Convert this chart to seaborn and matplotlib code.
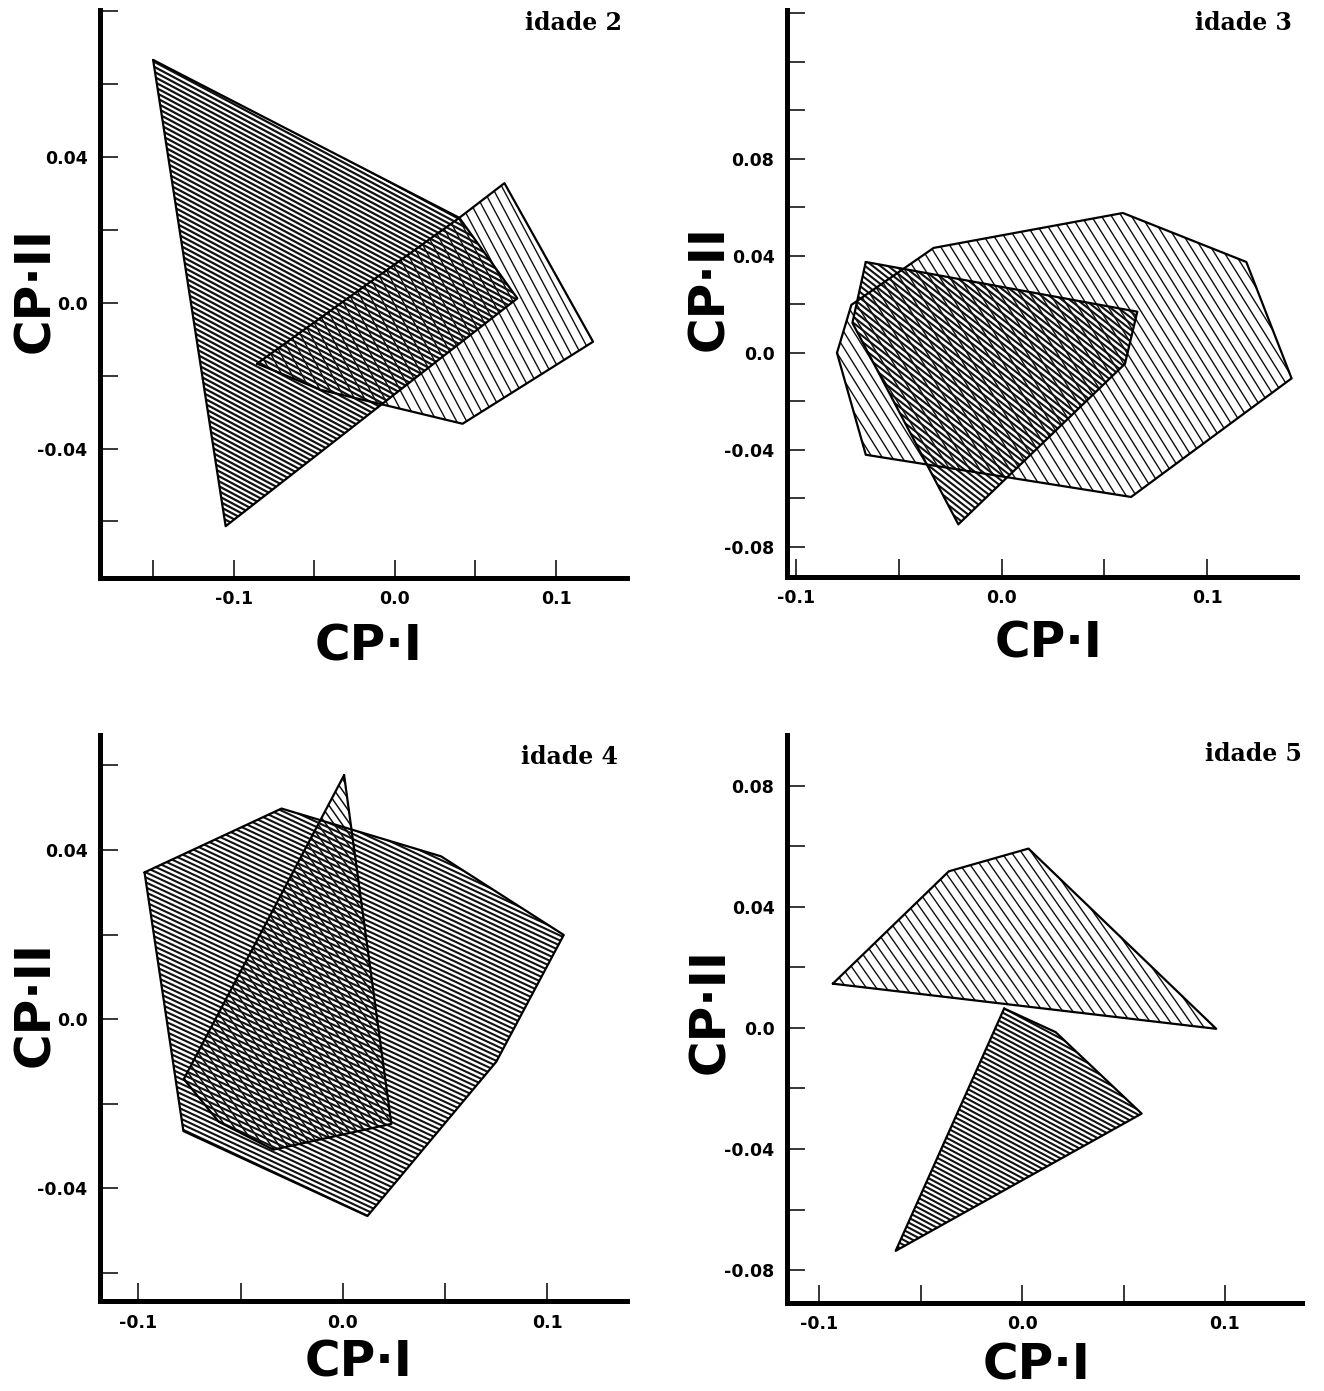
import numpy as np
import matplotlib
matplotlib.use('Agg')
import matplotlib.pyplot as plt
import seaborn as sns
from matplotlib.patches import Polygon
from matplotlib.collections import LineCollection

# ---- data: convex hulls on CP-I / CP-II, one figure per age (idade) ----
# idade 2
i2_dense_x = [-0.150, 0.040, 0.076, -0.105]
i2_dense_y = [0.0666, 0.0233, 0.0012, -0.0613]
i2_sparse_x = [-0.0855, 0.040, 0.068, 0.123, 0.042, -0.005, -0.046]
i2_sparse_y = [-0.0167, 0.0233, 0.0328, -0.0107, -0.0332, -0.0282, -0.0239]

# idade 3
i3_dense_x = [-0.066, 0.066, 0.060, -0.021, -0.0725]
i3_dense_y = [0.0375, 0.017, -0.0045, -0.0707, 0.0124]
i3_sparse_x = [-0.080, -0.073, -0.033, 0.059, 0.119, 0.141, 0.063, -0.066]
i3_sparse_y = [0.0, 0.0198, 0.0433, 0.0577, 0.0375, -0.0105, -0.0594, -0.042]

# idade 4
i4_dense_x = [-0.097, -0.030, 0.048, 0.108, 0.075, 0.012, -0.078]
i4_dense_y = [0.0347, 0.0498, 0.0385, 0.0199, -0.0101, -0.0466, -0.0265]
i4_sparse_x = [0.0006, 0.0237, -0.034, -0.0607, -0.0778]
i4_sparse_y = [0.0577, -0.0248, -0.0309, -0.0243, -0.0142]

# idade 5
i5_dense_x = [-0.0089, 0.0165, 0.0589, -0.0624]
i5_dense_y = [0.0064, -0.0014, -0.0283, -0.0736]
i5_sparse_x = [-0.0934, -0.0362, 0.0031, 0.0957]
i5_sparse_y = [0.0146, 0.0517, 0.0592, -0.0003]

panel_titles = ['idade 2', 'idade 3', 'idade 4', 'idade 5']
x_labels = ['-0.1', '0.0', '0.1']
y_labels_small = ['-0.04', '0.0', '0.04']
y_labels_big = ['-0.08', '-0.04', '0.0', '0.04', '0.08']

sns.set_theme(style='white')
plt.rcParams['font.family'] = ['DejaVu Sans']
plt.rcParams['text.color'] = 'black'
plt.rcParams['axes.labelcolor'] = 'black'
plt.rcParams['xtick.color'] = 'black'
plt.rcParams['ytick.color'] = 'black'
plt.rcParams['axes.linewidth'] = 3.6

fig = plt.figure(figsize=(13.24, 13.91), dpi=100)


def hatch(ax, xs, ys, angle, gap, lw):
    # straight hatch lines clipped to the polygon; angle in screen degrees,
    # gap = vertical px between lines for shallow angles, horizontal px for steep ones
    poly = Polygon(np.column_stack([xs, ys]), closed=True, fill=False,
                   edgecolor='none', transform=ax.transData)
    ax.add_patch(poly)
    bb = ax.get_window_extent()
    W, H = bb.width, bb.height
    a = np.deg2rad(angle)
    d = np.array([np.cos(a), np.sin(a)])
    n = np.array([-np.sin(a), np.cos(a)])
    step = gap * abs(np.cos(a)) if abs(angle) < 45 else gap * abs(np.sin(a))
    corners = np.array([[0, 0], [W, 0], [0, H], [W, H]])
    proj = corners @ n
    L = np.hypot(W, H)
    segs = []
    for t in np.arange(proj.min(), proj.max(), step):
        p0 = t * n - L * d
        p1 = t * n + L * d
        segs.append([(p0[0] / W, p0[1] / H), (p1[0] / W, p1[1] / H)])
    lc = LineCollection(segs, colors='#111111', linewidths=lw, transform=ax.transAxes)
    ax.add_collection(lc)
    lc.set_clip_path(poly)


def outline(ax, xs, ys):
    sns.lineplot(x=list(xs) + [xs[0]], y=list(ys) + [ys[0]], sort=False, estimator=None,
                 color='black', linewidth=1.6, ax=ax)


def style(ax, xlim, ylim, yticks, ylabs, title, title_xy, xl_xy, yl_xy):
    ax.set_xlim(*xlim)
    ax.set_ylim(*ylim)
    xt = np.round(np.arange(-0.15, 0.1001, 0.05), 3)
    xt = xt[xt >= xlim[0]]
    ax.set_xticks(xt)
    ax.set_xticklabels([{-0.1: x_labels[0], 0.0: x_labels[1], 0.1: x_labels[2]}.get(round(v, 2), '')
                        for v in xt])
    ax.set_yticks(yticks)
    lab_map = {round(float(l), 2): l for l in ylabs}
    ax.set_yticklabels([lab_map.get(round(v, 2), '') for v in yticks])
    ax.spines[['top', 'right']].set_visible(False)
    for s in ['left', 'bottom']:
        ax.spines[s].set_color('black')
        ax.spines[s].set_linewidth(3.6)
    ax.tick_params(direction='in', length=13, width=1.1, color='black', pad=9,
                   labelsize=12.5, labelcolor='black', left=True, bottom=True)
    for t in ax.get_xticklabels() + ax.get_yticklabels():
        t.set_fontweight('bold')
    ax.set_xlabel('CP·I', fontsize=35, fontweight='bold', color='black')
    ax.set_ylabel('CP·II', fontsize=35, fontweight='bold', color='black')
    ax.xaxis.set_label_coords(*xl_xy)
    ax.yaxis.set_label_coords(*yl_xy)
    ax.xaxis.label.set_va('center')
    ax.yaxis.label.set_va('center')
    ax.text(title_xy[0], title_xy[1], title, transform=ax.transAxes, ha='right', va='center',
            fontsize=17, fontweight='bold', family='DejaVu Serif', color='black')
    ax.grid(False)


# idade 2
ax1 = fig.add_axes([0.0755, 0.5845, 0.398, 0.4083])
hatch(ax1, i2_dense_x, i2_dense_y, -28, 5, 1.6)
hatch(ax1, i2_sparse_x, i2_sparse_y, -62, 10, 1.0)
outline(ax1, i2_dense_x, i2_dense_y)
outline(ax1, i2_sparse_x, i2_sparse_y)
style(ax1, (-0.183, 0.144), (-0.0755, 0.0803), np.round(np.arange(-0.06, 0.0801, 0.02), 2),
      y_labels_small, panel_titles[0], (0.99, 0.977), (0.509, -0.12), (-0.123, 0.507))

# idade 3
ax2 = fig.add_axes([0.5944, 0.5852, 0.385, 0.4076])
hatch(ax2, i3_sparse_x, i3_sparse_y, -58, 10, 1.0)
hatch(ax2, i3_dense_x, i3_dense_y, -38, 6, 1.5)
outline(ax2, i3_sparse_x, i3_sparse_y)
outline(ax2, i3_dense_x, i3_dense_y)
style(ax2, (-0.1043, 0.1435), (-0.0924, 0.1414), np.round(np.arange(-0.08, 0.1401, 0.02), 2),
      y_labels_big, panel_titles[1], (0.99, 0.977), (0.514, -0.117), (-0.152, 0.51))

# idade 4
ax3 = fig.add_axes([0.0755, 0.0647, 0.398, 0.4069])
hatch(ax3, i4_dense_x, i4_dense_y, -25, 5, 1.5)
hatch(ax3, i4_sparse_x, i4_sparse_y, -55, 8, 1.1)
outline(ax3, i4_dense_x, i4_dense_y)
outline(ax3, i4_sparse_x, i4_sparse_y)
style(ax3, (-0.1188, 0.1389), (-0.0667, 0.0672), np.round(np.arange(-0.06, 0.0601, 0.02), 2),
      y_labels_small, panel_titles[2], (0.983, 0.961), (0.49, -0.108), (-0.123, 0.525))

# idade 5
ax4 = fig.add_axes([0.5944, 0.0633, 0.389, 0.4083])
hatch(ax4, i5_sparse_x, i5_sparse_y, -55, 10, 1.0)
hatch(ax4, i5_dense_x, i5_dense_y, -28, 5, 1.5)
outline(ax4, i5_sparse_x, i5_sparse_y)
outline(ax4, i5_dense_x, i5_dense_y)
style(ax4, (-0.116, 0.138), (-0.0908, 0.0967), np.round(np.arange(-0.08, 0.0801, 0.02), 2),
      y_labels_big, panel_titles[3], (1.0, 0.967), (0.485, -0.11), (-0.15, 0.514))

fig.savefig('out.png', dpi=100, facecolor='white')
